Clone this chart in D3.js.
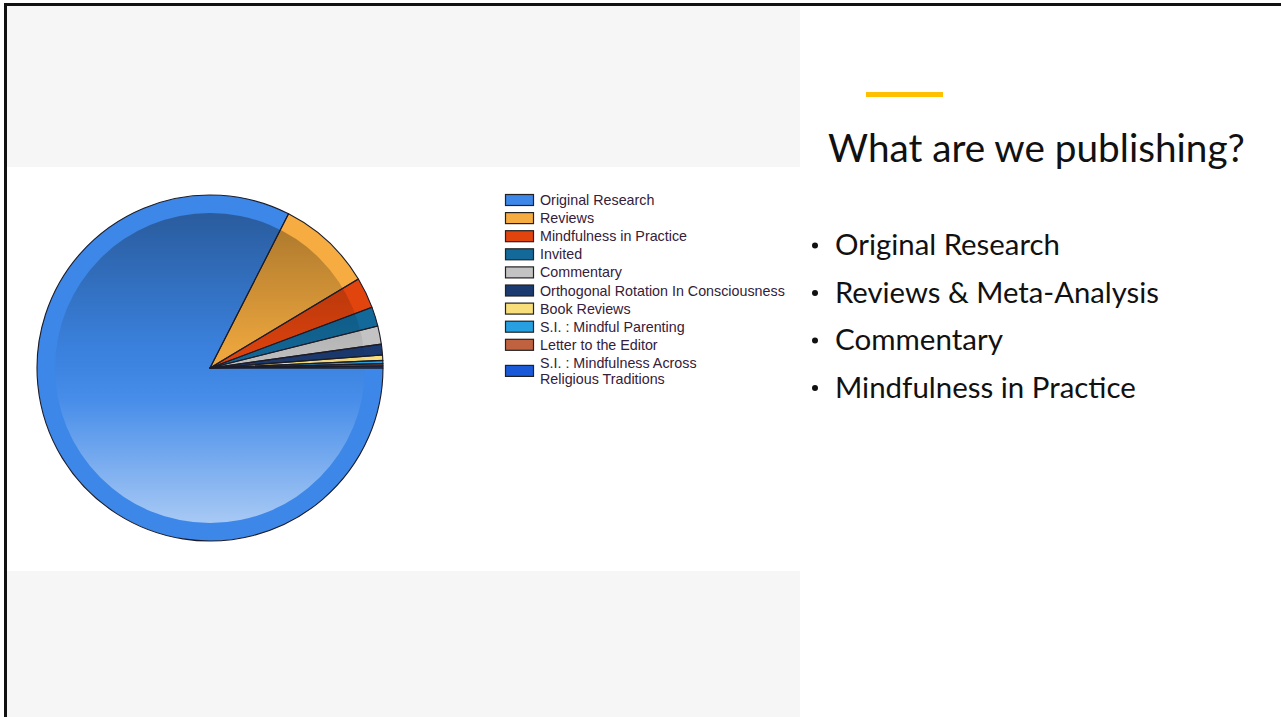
<!DOCTYPE html>
<html>
<head>
<meta charset="utf-8">
<script src="https://cdn.jsdelivr.net/npm/d3@7"></script>
<style>
  html, body { margin: 0; padding: 0; background: #fff; }
  svg { display: block; }
</style>
</head>
<body>
<svg id="slide"></svg>
<script>
var categories = [
    'Original Research', 'Reviews', 'Mindfulness in Practice', 'Invited',
    'Commentary', 'Orthogonal Rotation In Consciousness', 'Book Reviews',
    'S.I. : Mindful Parenting', 'Letter to the Editor',
    'S.I. : Mindfulness Across Religious Traditions'
];
var counts = [825, 89, 29, 18, 17, 10, 5, 3, 2, 2];
var sliceColors = [
    '#3d87e8', '#f6ac40', '#e2440e', '#12699a', '#c3c3c3',
    '#1b3a70', '#f8df7c', '#27a0e2', '#c0623f', '#1a5ad8'
];
var legendLines = [
    ['Original Research'], ['Reviews'], ['Mindfulness in Practice'], ['Invited'],
    ['Commentary'], ['Orthogonal Rotation In Consciousness'], ['Book Reviews'],
    ['S.I. : Mindful Parenting'], ['Letter to the Editor'],
    ['S.I. : Mindfulness Across', 'Religious Traditions']
];
var title = 'What are we publishing?';
var bullets = ['Original Research', 'Reviews & Meta-Analysis', 'Commentary', 'Mindfulness in Practice'];

var $svg = {width: 1281, height: 717};
var $pie = {cx: 210, cy: 368, r: 173, inner: 155};

function init () {
    $svg.main = d3.select('svg#slide')
        .attr('width', $svg.width)
        .attr('height', $svg.height);
    drawBackground();
    drawPie();
    drawLegend();
    drawText();
}

function drawBackground () {
    var s = $svg.main;
    s.append('rect').attr('x', 0).attr('y', 0).attr('width', $svg.width).attr('height', $svg.height).attr('fill', '#fff');
    s.append('rect').attr('x', 7).attr('y', 6).attr('width', 793).attr('height', 711).attr('fill', '#f6f6f6');
    s.append('rect').attr('x', 7).attr('y', 167).attr('width', 793).attr('height', 404).attr('fill', '#fff');
    // frame edges
    s.append('rect').attr('x', 4).attr('y', 3).attr('width', $svg.width - 4).attr('height', 3).attr('fill', '#111');
    s.append('rect').attr('x', 4).attr('y', 3).attr('width', 3).attr('height', $svg.height - 3).attr('fill', '#111');
}

function drawPie () {
    var defs = $svg.main.append('defs');
    var grad = defs.append('linearGradient')
        .attr('id', 'shade')
        .attr('gradientUnits', 'userSpaceOnUse')
        .attr('x1', 0).attr('x2', 0)
        .attr('y1', $pie.cy - $pie.inner).attr('y2', $pie.cy + $pie.inner);
    [
        [0, '#000', 0.32],
        [0.45, '#000', 0.04],
        [0.6, '#fff', 0.05],
        [1, '#fff', 0.55]
    ].forEach(function (st) {
        grad.append('stop').attr('offset', st[0]).attr('stop-color', st[1]).attr('stop-opacity', st[2]);
    });

    var pie = d3.pie().sort(null)
        .startAngle(Math.PI / 2)
        .endAngle(Math.PI / 2 + 2 * Math.PI);
    var arcs = pie(counts);
    var outer = d3.arc().innerRadius(0).outerRadius($pie.r);

    var g = $svg.main.append('g')
        .attr('transform', `translate(${$pie.cx},${$pie.cy})`);

    g.selectAll('path.slice')
        .data(arcs)
        .join('path')
        .attr('class', 'slice')
        .attr('d', outer)
        .attr('fill', (d, i) => sliceColors[i]);

    // shading disc, gradient is in page coordinates
    $svg.main.append('circle')
        .attr('cx', $pie.cx).attr('cy', $pie.cy)
        .attr('r', $pie.inner)
        .attr('fill', 'url(#shade)');

    var g2 = $svg.main.append('g')
        .attr('transform', `translate(${$pie.cx},${$pie.cy})`);
    g2.selectAll('path.edge')
        .data(arcs)
        .join('path')
        .attr('class', 'edge')
        .attr('d', outer)
        .attr('fill', 'none')
        .attr('stroke', '#1c1c28')
        .attr('stroke-width', 1.1)
        .attr('stroke-linejoin', 'round');
}

function drawLegend () {
    var g = $svg.main.append('g').attr('font-family', 'Liberation Sans, Arial, sans-serif');
    var y0 = 200, step = 18.1;
    var rows = legendLines.map((lines, i) => ({lines: lines, i: i}));
    var item = g.selectAll('g.item')
        .data(rows)
        .join('g')
        .attr('class', 'item')
        .attr('transform', d => `translate(0,${y0 + d.i * step + (d.lines.length > 1 ? 8 : 0)})`);
    item.append('rect')
        .attr('x', 505.5).attr('y', -5.5)
        .attr('width', 28).attr('height', 11)
        .attr('fill', d => sliceColors[d.i])
        .attr('stroke', '#222').attr('stroke-width', 1.2);
    item.each(function (d) {
        var t = d3.select(this).append('text')
            .attr('x', 540)
            .attr('font-size', 14.3)
            .attr('fill', '#35203a');
        d.lines.forEach(function (ln, k) {
            t.append('tspan')
                .attr('x', 540)
                .attr('y', (d.lines.length > 1 ? -8 + k * 16 : 0) + 5)
                .text(ln);
        });
    });
}

function fitText (sel, width) {
    var w = sel.node().getComputedTextLength();
    var fs = parseFloat(sel.attr('font-size'));
    sel.attr('font-size', fs * width / w);
}

function drawText () {
    var s = $svg.main;
    s.append('rect').attr('x', 866).attr('y', 92).attr('width', 77).attr('height', 5).attr('fill', '#ffc000');

    var t = s.append('text')
        .attr('x', 828).attr('y', 162)
        .attr('font-family', 'Lato, Open Sans, sans-serif')
        .attr('font-weight', 400)
        .attr('font-size', 38)
        .attr('fill', '#111')
        .text(title);
    fitText(t, 417);

    var bg = s.append('g')
        .attr('font-family', 'Lato, Open Sans, sans-serif')
        .attr('fill', '#111');
    var widths = [225, 324, 168, 301];
    bullets.forEach(function (b, i) {
        var y = 255 + i * 47.5;
        bg.append('circle').attr('cx', 815).attr('cy', y - 9.5).attr('r', 3);
        var tx = bg.append('text')
            .attr('x', 835).attr('y', y)
            .attr('font-size', 27)
            .text(b);
        fitText(tx, widths[i]);
    });
}

init();
</script>
</body>
</html>
